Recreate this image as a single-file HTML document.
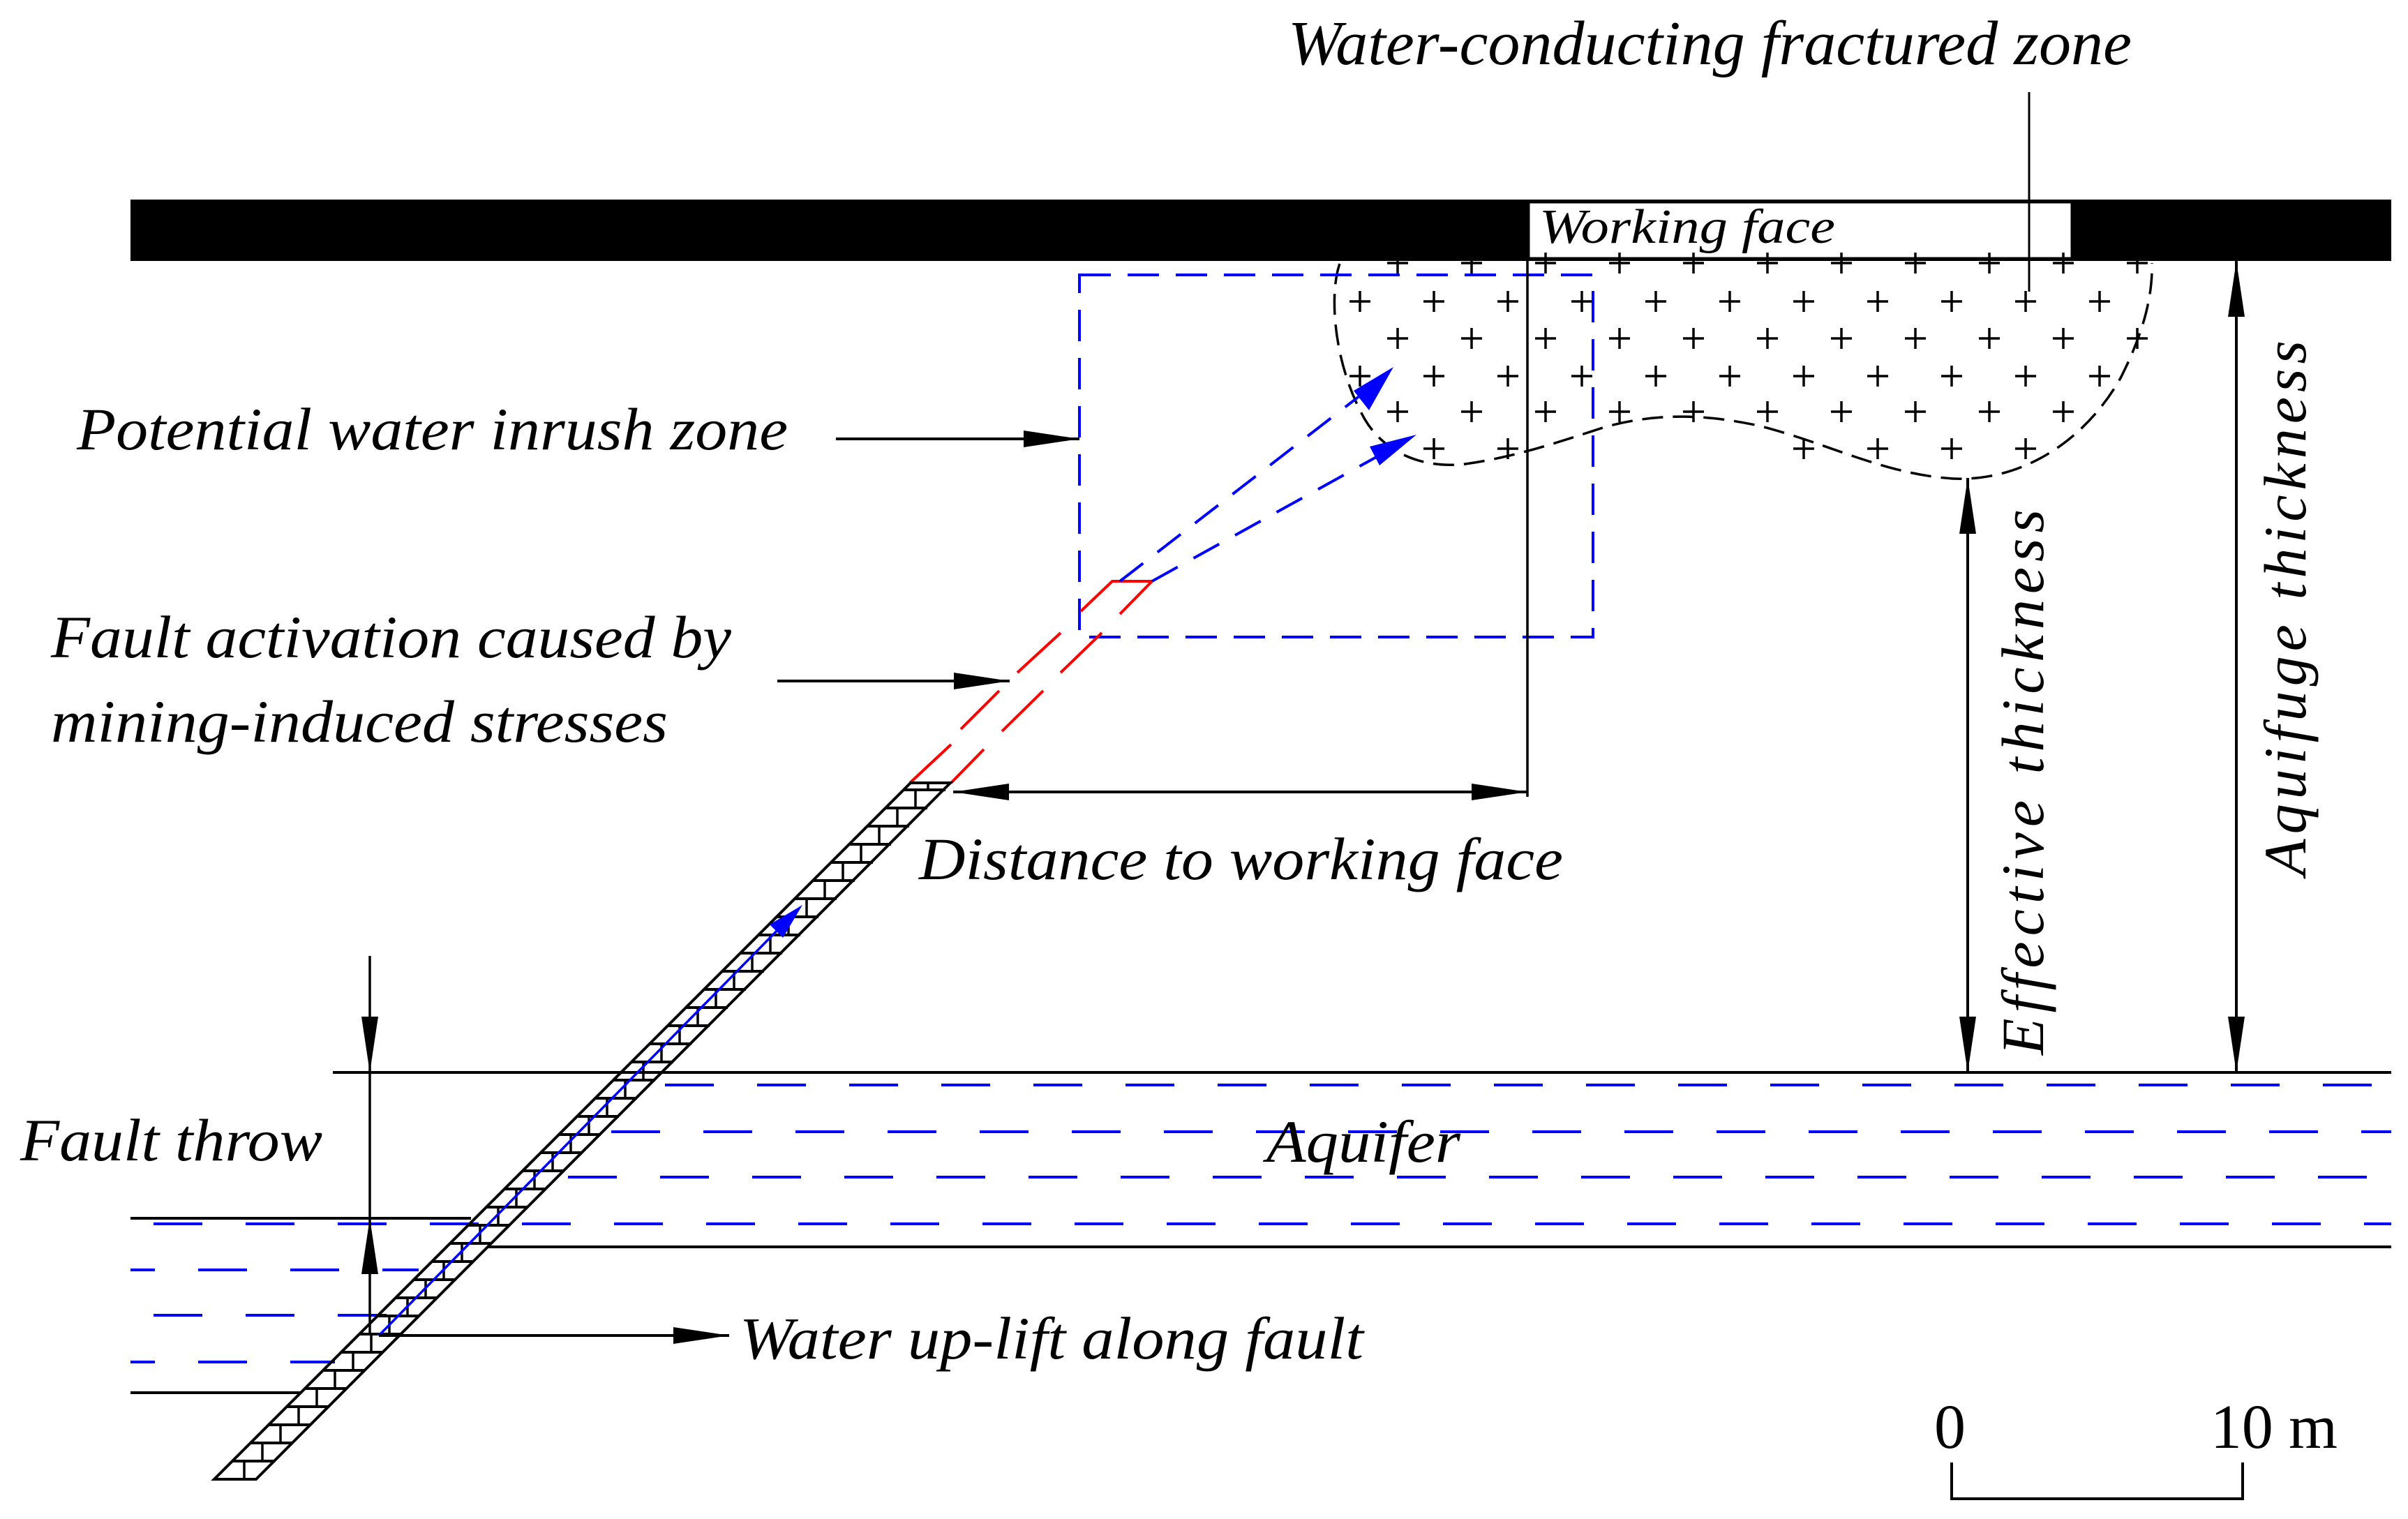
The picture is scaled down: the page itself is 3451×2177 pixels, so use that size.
<!DOCTYPE html>
<html><head><meta charset="utf-8"><style>
html,body{margin:0;padding:0;background:#fff;}
svg{display:block;}
text{font-family:"Liberation Serif","Times New Roman",serif;font-style:italic;fill:#000;}
</style></head><body>
<svg id="s" width="3451" height="2177" viewBox="0 0 3451 2177" xmlns="http://www.w3.org/2000/svg">
<!-- top bar -->
<rect x="187" y="286" width="3240" height="88" fill="#000"/>
<rect x="2191" y="290" width="778" height="80" fill="#fff" stroke="#000" stroke-width="3"/>
<text x="2206" y="348" font-size="70" font-style="italic" textLength="424" lengthAdjust="spacingAndGlyphs">Working face</text>
<text x="1846" y="92" font-size="90" font-style="italic" textLength="1209" lengthAdjust="spacingAndGlyphs">Water-conducting fractured zone</text>
<line x1="2908" y1="132" x2="2908" y2="418" stroke="#000" stroke-width="3"/>
<g id="plus" stroke="#000" stroke-width="3.5"></g>
<path d="M1920,378 C1905,420 1910,520 1956,601 C1985,650 2040,672 2100,665 C2170,655 2230,635 2300,612 C2380,590 2450,595 2520,610 C2620,635 2700,680 2800,686 C2900,690 2990,630 3040,540 C3075,470 3085,420 3084,377" fill="none" stroke="#000" stroke-width="3.5" stroke-dasharray="30 14"/>
<!-- blue rect -->
<rect x="1547" y="394" width="736" height="519" fill="none" stroke="#0000ff" stroke-width="4" stroke-dasharray="45 24"/>
<line x1="2189" y1="374" x2="2189" y2="1142" stroke="#000" stroke-width="3.5"/>
<!-- labels left -->
<text x="110" y="644" font-size="86" font-style="italic" textLength="1019" lengthAdjust="spacingAndGlyphs">Potential water inrush zone</text>
<line x1="1198" y1="629" x2="1547" y2="629" stroke="#000" stroke-width="4"/>
<path d="M1547,629 L1467,617 L1467,641z" fill="#000"/>
<text x="73" y="942" font-size="86" font-style="italic" textLength="975" lengthAdjust="spacingAndGlyphs">Fault activation caused by</text>
<text x="73" y="1063" font-size="86" font-style="italic" textLength="884" lengthAdjust="spacingAndGlyphs">mining-induced stresses</text>
<line x1="1114" y1="976" x2="1447" y2="976" stroke="#000" stroke-width="4"/>
<path d="M1447,976 L1367,964 L1367,988z" fill="#000"/>
<!-- red -->
<g stroke="#ff0000" stroke-width="4" fill="none">
<path d="M1549,876 L1594,833 L1651,833 L1605,880"/>
<line x1="1520" y1="907" x2="1458" y2="964"/>
<line x1="1432" y1="990" x2="1377" y2="1045"/>
<line x1="1363" y1="1067" x2="1304" y2="1122"/>
<line x1="1579" y1="907" x2="1520" y2="964"/>
<line x1="1495" y1="990" x2="1436" y2="1048"/>
<line x1="1410" y1="1074" x2="1363" y2="1122"/>
</g>
<!-- blue arrows -->
<g stroke="#0000ff" stroke-width="4" stroke-dasharray="42 26" fill="none">
<line x1="1605" y1="833" x2="1975" y2="547"/>
<line x1="1651" y1="833" x2="2005" y2="637"/>
</g>
<path d="M1997,526 L1940,560 L1962,588z" fill="#0000ff"/>
<path d="M2030,623 L1963,640 L1977,667z" fill="#0000ff"/>
<!-- distance -->
<line x1="1366" y1="1135" x2="2189" y2="1135" stroke="#000" stroke-width="4"/>
<path d="M1366,1135 L1446,1123 L1446,1147z M2189,1135 L2109,1123 L2109,1147z" fill="#000"/>
<text x="1317" y="1260" font-size="86" font-style="italic" textLength="923" lengthAdjust="spacingAndGlyphs">Distance to working face</text>
<!-- aquifer -->
<line x1="477" y1="1537" x2="3427" y2="1537" stroke="#000" stroke-width="4"/>
<line x1="700" y1="1787" x2="3427" y2="1787" stroke="#000" stroke-width="4"/>
<g stroke="#0000ff" stroke-width="4" stroke-dasharray="70 62">
<line x1="953" y1="1555" x2="3427" y2="1555"/>
<line x1="876" y1="1622" x2="3427" y2="1622"/>
<line x1="814" y1="1687" x2="3427" y2="1687"/>
<line x1="220" y1="1754" x2="3427" y2="1754"/>
<line x1="187" y1="1820" x2="600" y2="1820" stroke-dasharray="35 62 70 62 70 62 70 62"/>
<line x1="220" y1="1885" x2="560" y2="1885"/>
<line x1="187" y1="1952" x2="480" y2="1952" stroke-dasharray="35 62 70 62 70 62 70 62"/>
</g>
<text x="1815" y="1665" font-size="86" font-style="italic" textLength="278" lengthAdjust="spacingAndGlyphs">Aquifer</text>
<line x1="187" y1="1746" x2="675" y2="1746" stroke="#000" stroke-width="4"/>
<line x1="187" y1="1996" x2="432" y2="1996" stroke="#000" stroke-width="4"/>
<!-- fault strip -->
<g id="fault" stroke="#000" stroke-width="4" fill="none"></g>
<line x1="543" y1="1914" x2="1130" y2="1317" stroke="#0000ff" stroke-width="3.5"/>
<path d="M1150,1297 L1103,1325 L1122,1344z" fill="#0000ff"/>
<!-- fault throw -->
<line x1="530" y1="1370" x2="530" y2="1914" stroke="#000" stroke-width="3.5"/>
<path d="M530,1537 L518,1457 L542,1457z M530,1746 L518,1826 L542,1826z" fill="#000"/>
<text x="29" y="1663" font-size="86" font-style="italic" textLength="433" lengthAdjust="spacingAndGlyphs">Fault throw</text>
<line x1="543" y1="1914" x2="1045" y2="1914" stroke="#000" stroke-width="4"/>
<path d="M1045,1914 L965,1902 L965,1926z" fill="#000"/>
<text x="1060" y="1947" font-size="86" font-style="italic" textLength="894" lengthAdjust="spacingAndGlyphs">Water up-lift along fault</text>
<!-- thickness arrows -->
<line x1="2820" y1="685" x2="2820" y2="1537" stroke="#000" stroke-width="4"/>
<path d="M2820,685 L2808,765 L2832,765z M2820,1537 L2808,1457 L2832,1457z" fill="#000"/>
<line x1="3205" y1="374" x2="3205" y2="1537" stroke="#000" stroke-width="4"/>
<path d="M3205,374 L3193,454 L3217,454z M3205,1537 L3193,1457 L3217,1457z" fill="#000"/>
<text transform="translate(2928,1512) rotate(-90)" x="0" y="0" font-size="86" font-style="italic" textLength="790" lengthAdjust="spacing" letter-spacing="8">Effective thickness</text>
<text transform="translate(3304,1255) rotate(-90)" x="0" y="0" font-size="86" font-style="italic" textLength="775" lengthAdjust="spacing" letter-spacing="8">Aquifuge thickness</text>
<!-- scale -->
<text x="2772" y="2075" font-size="90" style="font-style:normal">0</text>
<text x="3168" y="2075" font-size="90" style="font-style:normal" textLength="182" lengthAdjust="spacingAndGlyphs">10 m</text>
<path d="M2797,2096 L2797,2148 L3214,2148 L3214,2096" fill="none" stroke="#000" stroke-width="4"/>
</svg>
<script>
var NS="http://www.w3.org/2000/svg";
function el(p,t,a){var e=document.createElementNS(NS,t);for(var k in a)e.setAttribute(k,a[k]);p.appendChild(e);return e;}
var pg=document.getElementById('plus');
var rows=[[377,2003],[432,1949],[485,2003],[539,1949],[590,2003],[643,1949]];
function inside(x,y){
 if(y<380) return x>1930&&x<3080;
 var d=[[432,1915,3082],[485,1918,3070],[539,1925,3050],[590,1950,3020],[643,2020,2960]];
 for(var i=0;i<d.length;i++){ if(Math.abs(y-d[i][0])<5){
   if(i==4){ if(x>2250&&x<2560) return false; }
   return x>d[i][1]&&x<d[i][2]; } }
 return false;}
rows.forEach(function(r){for(var x=r[1];x<3100;x+=106){ if(inside(x,r[0])){el(pg,'line',{x1:x-15,y1:r[0],x2:x+15,y2:r[0]});el(pg,'line',{x1:x,y1:r[0]-15,x2:x,y2:r[0]+15});}}});
var f=document.getElementById('fault');
function xl(y){return 307+(2120-y);}
el(f,'path',{d:'M307,2120 L1305,1122 L1362,1122 L367,2120 Z'});
for(var y=2120;y>1122;y-=26){
  var y2=y-26; if(y2<1122)y2=1122;
  if(y2>1122) el(f,'line',{x1:xl(y2),y1:y2,x2:xl(y2)+60,y2:y2});
  var ym=(y+y2)/2; var xm=xl(ym)+30;
  el(f,'line',{x1:xm,y1:y,x2:xm,y2:y2,'stroke-width':3.5});
}
</script>
</body></html>
